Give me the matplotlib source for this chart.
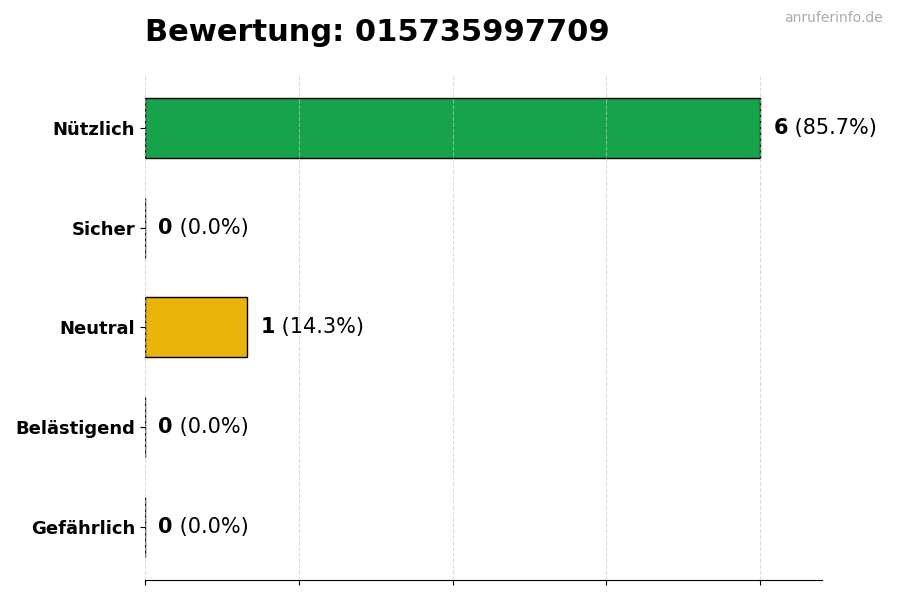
import matplotlib
matplotlib.use("Agg")
import matplotlib.pyplot as plt

# Daten
kategorien = ["Nützlich", "Sicher", "Neutral", "Belästigend", "Gefährlich"]
anzahl = [6, 0, 1, 0, 0]
farben = ["#16a34a", "#2563eb", "#eab308", "#f97316", "#dc2626"]
nummer = "015735997709"

gesamt = sum(anzahl)
prozent = [100 * a / gesamt for a in anzahl]

fig = plt.figure(figsize=(9, 6), dpi=100)
ax = fig.add_axes([0.161, 0.0333, 0.752, 0.842])

y = list(range(len(kategorien)))
ax.barh(y, anzahl, height=0.6, color=farben, edgecolor="black", linewidth=1, zorder=1)
ax.invert_yaxis()
ax.set_yticks(y)
ax.set_yticklabels(kategorien, fontsize=13, fontweight="bold")

ax.set_xlim(0, max(anzahl) * 1.1)
ax.set_xticks([0, 1.5, 3, 4.5, 6])
ax.set_xticklabels([])
ax.grid(axis="x", linestyle="--", color="#c8c8c8", alpha=0.65, zorder=2)
ax.set_axisbelow(False)

for s in ["top", "right", "left"]:
    ax.spines[s].set_visible(False)

# Beschriftung: fette Zahl + Prozent
for yi, a, p in zip(y, anzahl, prozent):
    t = ax.text(a + 0.13, yi, str(a), fontsize=15, fontweight="bold", va="center", ha="left")
    ax.annotate(f" ({p:.1f}%)", xy=(1, 0.5), xycoords=t, fontsize=15, va="center", ha="left")

ax.set_title(f"Bewertung: {nummer}", loc="left", fontsize=22, fontweight="bold", pad=24.5)
fig.text(0.981, 0.982, "anruferinfo.de", ha="right", va="top", fontsize=10, color="#aaaaaa")

fig.savefig("out.png", dpi=100)
